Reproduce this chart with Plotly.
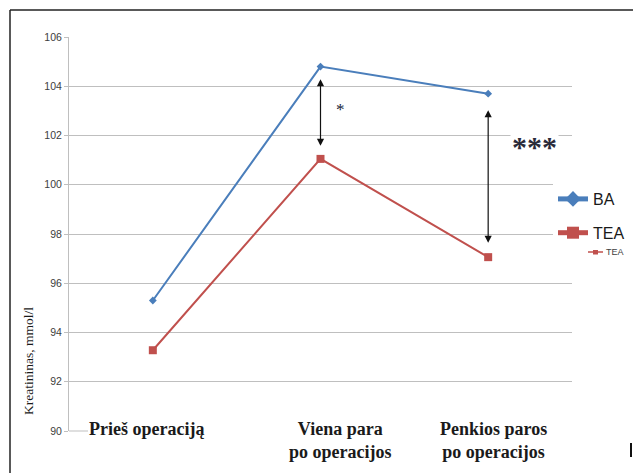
import plotly.graph_objects as go

# Creatinine levels at three time points for two anaesthesia groups
categories = ["Prieš operaciją", "Viena para<br>po operacijos", "Penkios paros<br>po operacijos"]
ba_values = [95.3, 104.8, 103.7]
tea_values = [93.28, 101.05, 97.06]
y_ticks = [90, 92, 94, 96, 98, 100, 102, 104, 106]

# Significance brackets: (category index, upper end, lower end)
brackets = [(1, 104.35, 101.58), (2, 103.09, 97.64)]
bracket_labels = ["*", "***"]

W, H = 633, 473
L, R, T, B = 69, 61, 37, 42
PW, PH = W - L - R, H - T - B


def px_x(px):
    return (px - L) / PW


def px_y(py):
    return (H - B - py) / PH


x_idx = list(range(len(categories)))
blue = "#4A7EBB"
red = "#C0504D"
grid = "#BFBFBF"

fig = go.Figure()
fig.add_trace(go.Scatter(
    x=x_idx, y=ba_values, name="BA", mode="lines+markers",
    line=dict(color=blue, width=2),
    marker=dict(symbol="diamond", size=6, color=blue),
    legendgroup="a",
))
fig.add_trace(go.Scatter(
    x=x_idx, y=tea_values, name="TEA", mode="lines+markers",
    line=dict(color=red, width=2),
    marker=dict(symbol="square", size=8, color=red),
    legendgroup="b",
))

annotations = []
# category labels in bold serif, sitting over the bottom of the plot
shifts = [-6, 20, 5]
for i, (cat, sh) in enumerate(zip(categories, shifts)):
    annotations.append(dict(
        x=i, y=px_y(417), xref="x", yref="paper", text="<b>" + cat + "</b>", showarrow=False,
        xanchor="center", yanchor="top", xshift=sh, align="center",
        font=dict(family="Liberation Serif", size=18, color="#1a1a1a"),
    ))

# double-headed arrows between the groups
for (xi, top, bot) in brackets:
    annotations.append(dict(
        x=xi, y=bot, ax=xi, ay=top, xref="x", yref="y", axref="x", ayref="y",
        text="", showarrow=True, arrowhead=2, startarrowhead=2,
        arrowside="end+start", arrowsize=1.2, startarrowsize=1.2,
        arrowwidth=1.2, arrowcolor="#111111", standoff=0, startstandoff=0,
    ))

annotations.append(dict(
    x=px_x(340), y=px_y(109), xref="paper", yref="paper", text=bracket_labels[0],
    showarrow=False, xanchor="center", yanchor="middle",
    font=dict(family="Liberation Serif", size=17, color="#151C38"),
))
annotations.append(dict(
    x=px_x(534), y=px_y(146), xref="paper", yref="paper", text="<b>" + bracket_labels[1] + "</b>",
    showarrow=False, bgcolor="white", xanchor="center", yanchor="middle",
    font=dict(family="Liberation Serif", size=30, color="#2A2A3A"),
))

# y axis title
annotations.append(dict(
    x=px_x(28), y=px_y(361), xref="paper", yref="paper", text="Kreatininas, mmol/l",
    textangle=-90, showarrow=False, xanchor="center", yanchor="middle",
    font=dict(family="Liberation Serif", size=13.5, color="#1a1a1a"),
))

# small secondary legend key
annotations.append(dict(
    x=px_x(604), y=px_y(252), xref="paper", yref="paper", text="TEA",
    showarrow=False, xanchor="left", yanchor="middle",
    font=dict(family="Liberation Sans", size=9, color="#404040"),
))

shapes = [
    # outer frame
    dict(type="line", xref="paper", yref="paper", x0=px_x(10), x1=px_x(633),
         y0=px_y(10), y1=px_y(10), line=dict(color="#222222", width=1.5)),
    dict(type="line", xref="paper", yref="paper", x0=px_x(10), x1=px_x(10),
         y0=px_y(10), y1=px_y(473), line=dict(color="#222222", width=1.5)),
    # bottom gridline: only the stub left of the first label
    dict(type="line", xref="paper", yref="paper", x0=px_x(69), x1=px_x(88),
         y0=0, y1=0, line=dict(color=grid, width=1), layer="above"),
    # small key mark for the secondary legend
    dict(type="line", xref="paper", yref="paper", x0=px_x(588), x1=px_x(603),
         y0=px_y(252), y1=px_y(252), line=dict(color=red, width=1.5)),
    dict(type="rect", xref="paper", yref="paper", x0=px_x(593), x1=px_x(598),
         y0=px_y(249.5), y1=px_y(254.5), line=dict(width=0), fillcolor=red),
    # stray mark at lower right
    dict(type="line", xref="paper", yref="paper", x0=px_x(631), x1=px_x(631),
         y0=px_y(443), y1=px_y(457), line=dict(color="#111111", width=2)),
]

fig.update_layout(
    width=W, height=H,
    margin=dict(l=L, r=R, t=T, b=B, autoexpand=False),
    paper_bgcolor="white", plot_bgcolor="white",
    showlegend=True,
    legend=dict(
        x=px_x(553), y=px_y(182), xanchor="left", yanchor="top",
        bgcolor="white", borderwidth=0, itemwidth=30, itemsizing="constant",
        tracegroupgap=10, traceorder="grouped",
        font=dict(family="Liberation Sans", size=16, color="#1a1a1a"),
    ),
    xaxis=dict(range=[-0.5, 2.5], showgrid=False, zeroline=False, showline=False,
               showticklabels=False, ticks=""),
    yaxis=dict(range=[90, 106], tickvals=y_ticks, showgrid=True, gridcolor=grid,
               gridwidth=1, zeroline=False, showline=True, linecolor=grid, linewidth=1,
               ticks="outside", ticklen=4, tickcolor=grid,
               tickfont=dict(family="Liberation Sans", size=10.5, color="#404040")),
    annotations=annotations,
    shapes=shapes,
)

fig.write_html("out.html")
